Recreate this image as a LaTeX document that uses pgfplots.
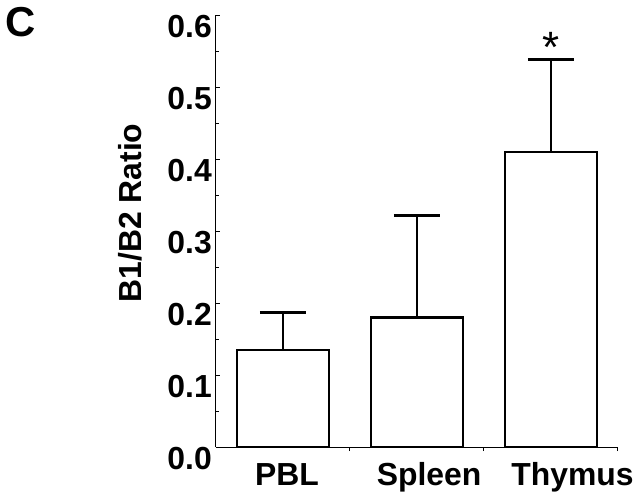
\documentclass[border=0pt]{standalone}
\usepackage{fontspec}
\setmainfont{Liberation Sans}
\usepackage{pgfplots}
\usepackage{pgfplotstable}
\pgfplotsset{compat=1.18}
\pgfplotstableread{
x y err
0 0.135 0.0525
1 0.180 0.141
2 0.410 0.1285
}\ratios
\begin{document}
\begin{tikzpicture}
\useasboundingbox (-216bp,-56bp) rectangle (424bp,447bp);
\begin{axis}[
  at={(0,0)}, anchor=south west,
  width=402bp, height=432bp, scale only axis,
  xmin=-0.5, xmax=2.5, ymin=0, ymax=0.6,
  axis lines=left, axis line style={-, line width=1bp},
  tick align=inside,
  xtick={0.5,1.5,2.5}, xticklabels={},
  extra x ticks={0.03,1.09,2.16},
  extra x tick labels={PBL,Spleen,Thymus},
  extra x tick style={major tick length=0pt},
  major x tick style={yshift=-4bp},
  ytick={0,0.1,0.2,0.3,0.4,0.5,0.6},
  minor y tick num=1,
  major tick length=4bp, minor tick length=3bp,
  tick style={black, line width=1bp},
  /pgf/number format/.cd, fixed, fixed zerofill, precision=1, assume math mode=true,
  /pgfplots/.cd,
  tick label style={font=\fontsize{32}{34}\selectfont\bfseries},
  yticklabel style={anchor=east, inner sep=0pt, xshift=-4bp, yshift=-12bp},
  xticklabel style={anchor=base, yshift=-38bp},
  ylabel={B1/B2 Ratio},
  ylabel style={at={(axis description cs:-0.214,0.5417)}, anchor=center, rotate=0, font=\fontsize{32}{34}\selectfont\bfseries},
  clip=false,
]
\addplot[ybar, bar width=0.687, bar shift=0pt, fill=white, draw=black, line width=2.2bp,
  error bars/.cd, y dir=plus, y explicit,
  error bar style={line width=2bp, black},
  error mark options={rotate=90, line width=3bp, mark size=23bp, black}]
  table[x=x, y=y, y error=err] {\ratios};
\node[anchor=north, inner sep=0pt, font=\fontsize{44}{46}\selectfont] at (axis cs:2,0.5764) {*};
\node[anchor=center, inner sep=0pt, font=\fontsize{42}{44}\selectfont\bfseries] at (axis description cs:-0.485,0.984) {C};
\end{axis}
\end{tikzpicture}
\end{document}
